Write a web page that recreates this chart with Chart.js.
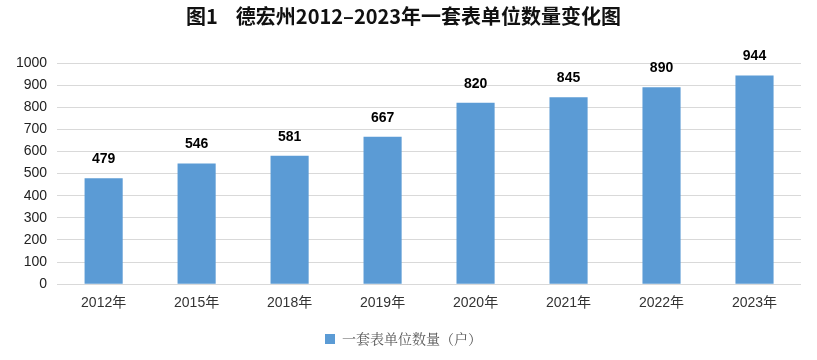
<!DOCTYPE html>
<html>
<head>
<meta charset="utf-8">
<script src="https://cdn.jsdelivr.net/npm/chart.js@4/dist/chart.umd.min.js"></script>
<style>
  html, body { margin: 0; padding: 0; background: #fff; }
  #wrap { width: 817px; height: 360px; }
</style>
</head>
<body>
<div id="wrap"><canvas id="unitChart"></canvas></div>
<script>
// Data
const years = ['2012年', '2015年', '2018年', '2019年', '2020年', '2021年', '2022年', '2023年'];
const unitCounts = [479, 546, 581, 667, 820, 845, 890, 944];
const yTicks = [0, 100, 200, 300, 400, 500, 600, 700, 800, 900, 1000];

// Value labels above bars
const barLabels = {
    id: 'barLabels',
    afterDatasetsDraw(chart) {
        const ctx = chart.ctx;
        const meta = chart.getDatasetMeta(0);
        ctx.save();
        ctx.font = 'bold 14px "Liberation Sans", Arial, sans-serif';
        ctx.fillStyle = '#000';
        ctx.textAlign = 'center';
        ctx.textBaseline = 'bottom';
        meta.data.forEach((bar, i) => {
            ctx.fillText(unitCounts[i], bar.x, bar.y - 12);
        });
        ctx.restore();
    }
};

new Chart(document.getElementById('unitChart'), {
    type: 'bar',
    data: {
        labels: years,
        datasets: [
            {
                label: '一套表单位数量（户）',
                data: unitCounts,
                backgroundColor: '#5b9bd5',
                barPercentage: 0.82,
                categoryPercentage: 0.5,
            },
        ],
    },
    options: {
        responsive: true,
        maintainAspectRatio: false,
        animation: false,
        layout: { padding: { left: 6, right: 16, top: 0, bottom: 4 } },
        plugins: {
            title: {
                display: true,
                text: '图1    德宏州2012–2023年一套表单位数量变化图',
                font: { family: '"Noto Sans CJK SC", sans-serif', size: 20, weight: 'bold' },
                color: '#111',
                padding: { top: 4, bottom: 35 },
            },
            legend: {
                display: true,
                position: 'bottom',
                labels: {
                    boxWidth: 10,
                    boxHeight: 10,
                    color: '#595959',
                    font: { family: '"Noto Serif CJK SC", "Noto Sans CJK SC", serif', size: 14 },
                    padding: 12,
                },
            },
            tooltip: { enabled: false },
        },
        scales: {
            x: {
                grid: { display: false },
                border: { display: false },
                afterFit(axis) {
                    axis.height += 5;
                },
                ticks: {
                    color: '#333',
                    font: { family: '"Liberation Sans", "Noto Sans CJK SC", sans-serif', size: 14 },
                    padding: 3,
                },
            },
            y: {
                min: 0,
                max: 1000,
                afterBuildTicks(axis) {
                    axis.ticks = yTicks.map((v) => ({ value: v }));
                },
                grid: { color: '#d9d9d9', drawTicks: false },
                border: { display: false },
                ticks: {
                    color: '#222',
                    font: { family: '"Liberation Sans", sans-serif', size: 14 },
                    padding: 10,
                    callback: (v) => String(v),
                },
            },
        },
    },
    plugins: [barLabels],
});
</script>
</body>
</html>
